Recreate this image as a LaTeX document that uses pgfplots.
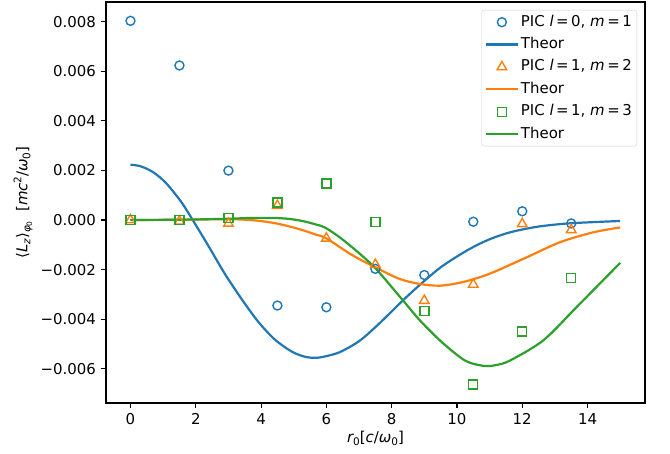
\documentclass[border=0pt]{standalone}
\usepackage{fontspec}
\setmainfont{DejaVu Sans}
\usepackage{pgfplots}
\pgfplotsset{compat=1.18}
\definecolor{tabblue}{HTML}{1F77B4}
\definecolor{taborange}{HTML}{FF7F0E}
\definecolor{tabgreen}{HTML}{2CA02C}
\newcommand{\sub}[1]{\raisebox{-0.35ex}{\fontsize{10.5}{12}\selectfont #1}}
\newcommand{\subsub}[1]{\raisebox{-0.3ex}{\fontsize{7.5}{9}\selectfont #1}}
\newcommand{\sups}[1]{\raisebox{0.75ex}{\fontsize{10.5}{12}\selectfont #1}}
\begin{document}
\fontsize{15}{18}\selectfont
\begin{tikzpicture}
\begin{axis}[
  scale only axis,
  width=539bp, height=401bp,
  xmin=-0.75, xmax=15.76,
  ymin=-0.00738, ymax=0.00879,
  axis line style={line width=1.1bp},
  tick style={line width=1.1bp, black},
  tick align=outside, tick pos=left,
  major tick length=5bp,
  xtick={0,2,4,6,8,10,12,14},
  xticklabels={0,2,4,6,8,10,12,14},
  ytick={-0.006,-0.004,-0.002,0,0.002,0.004,0.006,0.008},
  yticklabels={−0.006,−0.004,−0.002,0.000,0.002,0.004,0.006,0.008},
  scaled y ticks=false, scaled x ticks=false,
  every tick label/.append style={font=\fontsize{15}{18}\selectfont},
  xlabel={{\itshape r}\sub{0}[{\itshape c}/{\itshape ω}\sub{0}]},
  ylabel={⟨{\itshape L}\sub{\itshape z}⟩\sub{{\itshape φ}\subsub{0}}\ \ [{\itshape mc}\sups{2}/{\itshape ω}\sub{0}]},
  every axis x label/.style={at={(axis description cs:0.5,0)}, anchor=center, yshift=-35bp},
  every axis y label/.style={at={(axis description cs:0,0.5)}, anchor=center, rotate=90, yshift=83bp},
  label style={font=\fontsize{15}{18}\selectfont},
  legend style={at={(1,1)}, anchor=north east, xshift=-8bp, yshift=-8bp,
    draw=black!20, rounded corners=2.5bp, fill=white, fill opacity=0.8, text opacity=1,
    font=\fontsize{15}{18}\selectfont, row sep=4.4bp, inner xsep=3bp, inner ysep=3bp,
    nodes={text height=11bp, text depth=3bp}},
  legend cell align=left,
  legend image code/.code={\draw[mark repeat=2,mark phase=2] plot coordinates {(0bp,0bp) (16bp,0bp) (32bp,0bp)};},
  mark size=4.5bp,
]
\addplot[only marks, mark=o, color=tabblue, line width=1.4bp] coordinates {
(0,0.00803) (1.5,0.00623) (3,0.00199) (4.5,-0.00345) (6,-0.00352) (7.5,-0.00197) (9,-0.00222) (10.5,-0.00007) (12,0.00035) (13.5,-0.00014)};
\addlegendentry{PIC {\itshape l}\,=\,0, {\itshape m}\,=\,1}
\addplot[smooth, color=tabblue, line width=2.2bp, mark=none] coordinates {
(0,0.00223) (0.3,0.00217) (0.64,0.00197) (0.9,0.00172) (1.15,0.0014) (1.56,0.00072) (1.92,-0.00003) (2.38,-0.00103) (2.89,-0.00217) (3.40,-0.00318) (3.91,-0.0041) (4.42,-0.00482) (4.93,-0.0053) (5.3,-0.0055) (5.6,-0.00556) (5.9,-0.00552) (6.41,-0.00533) (7.03,-0.00486) (7.64,-0.00415) (8.30,-0.0033) (8.86,-0.00262) (9.48,-0.00193) (10.09,-0.0014) (10.60,-0.00102) (11.11,-0.00072) (11.62,-0.0005) (12.13,-0.00035) (12.64,-0.00024) (13.51,-0.00013) (15,-0.00004)};
\addlegendentry{Theor}
\addplot[only marks, mark=triangle, mark size=5.5bp, color=taborange, line width=1.4bp] coordinates {
(0,0) (1.5,-0.00005) (3,-0.00014) (4.5,0.00058) (6,-0.00074) (7.5,-0.0018) (9,-0.00325) (10.5,-0.0026) (12,-0.00016) (13.5,-0.0004)};
\addlegendentry{PIC {\itshape l}\,=\,1, {\itshape m}\,=\,2}
\addplot[smooth, color=taborange, line width=2.2bp, mark=none] coordinates {
(0,0) (1.5,0.00001) (3,0.00003) (3.65,0.0) (4.2,-0.00008) (4.68,-0.0002) (5.2,-0.00038) (5.7,-0.0006) (6.0,-0.00074) (6.77,-0.0014) (7.53,-0.00193) (8.25,-0.00238) (8.86,-0.00258) (9.48,-0.00265) (10.09,-0.00253) (10.6,-0.00235) (11.11,-0.00211) (12.13,-0.00151) (13.15,-0.0009) (14.17,-0.0005) (15,-0.0003)};
\addlegendentry{Theor}
\addplot[only marks, mark=square, color=tabgreen, line width=1.4bp] coordinates {
(0,0) (1.5,0.00001) (3,0.00007) (4.5,0.00071) (6,0.00147) (7.5,-0.00008) (9,-0.00368) (10.5,-0.00663) (12,-0.0045) (13.5,-0.00234)};
\addlegendentry{PIC {\itshape l}\,=\,1, {\itshape m}\,=\,3}
\addplot[smooth, color=tabgreen, line width=2.2bp, mark=none] coordinates {
(0,0) (1.5,0.00001) (3,0.00005) (3.65,0.00008) (4.42,0.00008) (4.88,0.00004) (5.3,-0.00005) (5.7,-0.00019) (5.95,-0.0003) (6.41,-0.0007) (7.03,-0.00137) (7.54,-0.002) (8.35,-0.00325) (8.86,-0.00404) (9.48,-0.00486) (10.09,-0.00553) (10.4,-0.00576) (10.86,-0.00589) (11.2,-0.00585) (11.62,-0.00567) (12.64,-0.00486) (13.66,-0.00352) (15,-0.00173)};
\addlegendentry{Theor}
\end{axis}
\path (current axis.south west) +(-106bp,-51bp) (current axis.north east) +(25bp,2bp);
\end{tikzpicture}
\end{document}
